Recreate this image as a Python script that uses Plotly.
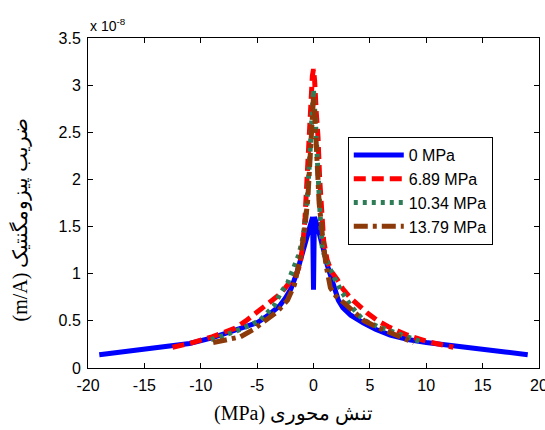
import plotly.graph_objects as go

# values in units of 1e-8 m/A
x_0 = [-19, -17, -15, -13, -11, -9, -8, -7, -6, -5, -4, -3, -2.5, -2, -1.5, -1.2, -0.9, -0.6, -0.3, -0.08, 0,
       0.08, 0.3, 0.6, 0.9, 1.2, 1.5, 1.8, 2.2, 2.6, 3.3, 4.4, 5.5, 6.8, 8.5, 10, 12.5, 15, 17, 19]
y_0 = [0.14, 0.17, 0.2, 0.22, 0.26, 0.32, 0.36, 0.39, 0.43, 0.48, 0.56, 0.66, 0.74, 0.84, 1.0, 1.12, 1.25, 1.4, 1.52, 1.6, 0.83,
       1.6, 1.52, 1.4, 1.25, 1.1, 0.98, 0.84, 0.72, 0.64, 0.56, 0.48, 0.41, 0.35, 0.30, 0.27, 0.23, 0.19, 0.17, 0.14]

x_689 = [-12.5, -11, -9, -7, -6, -5, -4, -3, -2.5, -2, -1.5, -1.2, -0.95, -0.75, -0.6, -0.45, -0.25, -0.1, 0,
         0.1, 0.25, 0.4, 0.55, 0.7, 0.9, 1.2, 1.6, 2.1, 2.6, 3.3, 4, 4.8, 5.7, 6.6, 8.3, 10.1, 12.4]
y_689 = [0.22, 0.26, 0.33, 0.42, 0.5, 0.59, 0.68, 0.78, 0.85, 0.93, 1.0, 1.1, 1.3, 1.6, 2.0, 2.45, 2.85, 3.1, 3.17,
         3.05, 2.7, 2.45, 2.0, 1.65, 1.35, 1.15, 1.02, 0.94, 0.84, 0.74, 0.66, 0.58, 0.5, 0.44, 0.35, 0.28, 0.22]

x_1034 = [-9.1, -7.1, -5.5, -4.7, -3.5, -2.9, -2.3, -1.8, -1.3, -0.9, -0.6, -0.4, -0.2, 0,
          0.2, 0.4, 0.6, 0.8, 1.5, 2.4, 3.3, 4.4, 5.7, 7.1, 9.5]
y_1034 = [0.30, 0.38, 0.46, 0.51, 0.66, 0.8, 0.9, 1.04, 1.2, 1.4, 1.7, 2.1, 2.55, 2.95,
          2.55, 2.0, 1.6, 1.25, 1.04, 0.83, 0.66, 0.51, 0.44, 0.38, 0.28]

x_1379 = [-8.9, -7.5, -6.5, -5.3, -4.1, -3.2, -2.3, -1.7, -1.2, -0.8, -0.5, -0.3, -0.15, 0,
          0.15, 0.3, 0.5, 0.8, 1.1, 1.5, 2.0, 2.7, 3.5, 4.5, 5.7, 7, 8.3, 8.9]
y_1379 = [0.27, 0.30, 0.33, 0.41, 0.51, 0.6, 0.72, 0.88, 1.15, 1.45, 1.8, 2.2, 2.6, 2.88,
          2.6, 2.2, 1.75, 1.4, 1.1, 0.85, 0.76, 0.69, 0.6, 0.5, 0.43, 0.36, 0.30, 0.27]

names = ["0 MPa", "6.89 MPa", "10.34 MPa", "13.79 MPa"]
x_ticks = [-20, -15, -10, -5, 0, 5, 10, 15, 20]
x_tick_text = ["-20", "-15", "-10", "-5", "0", "5", "10", "15", "20"]
y_ticks = [0, 0.5, 1, 1.5, 2, 2.5, 3, 3.5]
y_tick_text = ["0", "0.5", "1", "1.5", "2", "2.5", "3", "3.5"]

fig = go.Figure()
fig.add_trace(go.Scatter(x=x_0, y=y_0, name=names[0], mode="lines",
                         line=dict(color="#0000FF", width=5)))
fig.add_trace(go.Scatter(x=x_689, y=y_689, name=names[1], mode="lines",
                         line=dict(color="#FF0000", width=5, dash="12px,6px")))
fig.add_trace(go.Scatter(x=x_1034, y=y_1034, name=names[2], mode="lines",
                         line=dict(color="#2E7D57", width=5, dash="4px,5px")))
fig.add_trace(go.Scatter(x=x_1379, y=y_1379, name=names[3], mode="lines",
                         line=dict(color="#8C3A0A", width=5, dash="14px,5px,4px,5px")))

axis_common = dict(showline=True, linecolor="black", linewidth=1, mirror="ticks",
                   ticks="inside", ticklen=5, tickcolor="black", showgrid=False, zeroline=False,
                   automargin=False, ticklabeloverflow="allow", ticklabelstandoff=3,
                   tickfont=dict(family="Liberation Sans, Arial", size=16, color="black"))

fig.update_layout(
    width=545, height=430,
    margin=dict(l=88, r=6, t=38, b=62),
    paper_bgcolor="white", plot_bgcolor="white",
    xaxis=dict(range=[-20, 20], tickvals=x_ticks, ticktext=x_tick_text, **axis_common),
    yaxis=dict(range=[0, 3.5], tickvals=y_ticks, ticktext=y_tick_text, **axis_common),
    legend=dict(x=0.576, y=0.70, xanchor="left", yanchor="top",
                bgcolor="white", bordercolor="black", borderwidth=1,
                font=dict(family="Liberation Sans, Arial", size=16, color="black"),
                tracegroupgap=0, itemwidth=50),
    showlegend=True,
    annotations=[
        dict(text="x 10<sup>-8</sup>", xref="paper", yref="paper", x=0, y=1.0,
             xanchor="left", yanchor="bottom", showarrow=False, yshift=2,
             font=dict(family="Liberation Sans, Arial", size=14, color="black")),
        dict(text="(MPa) تنش محوری", xref="paper", yref="paper", x=0.455, y=0,
             xanchor="center", yanchor="top", showarrow=False, yshift=-32,
             font=dict(family="Liberation Serif, DejaVu Serif", size=20, color="black")),
        dict(text="(m/A) ضریب پیزومگنتیک", xref="paper", yref="paper", x=0, y=0.45,
             xanchor="center", yanchor="middle", showarrow=False, xshift=-68, textangle=-90,
             font=dict(family="Liberation Serif, DejaVu Serif", size=20, color="black")),
    ],
)

fig.write_html("out.html", config={"displayModeBar": False},
               post_script="document.body.style.margin='0';document.body.style.overflow='hidden';")
